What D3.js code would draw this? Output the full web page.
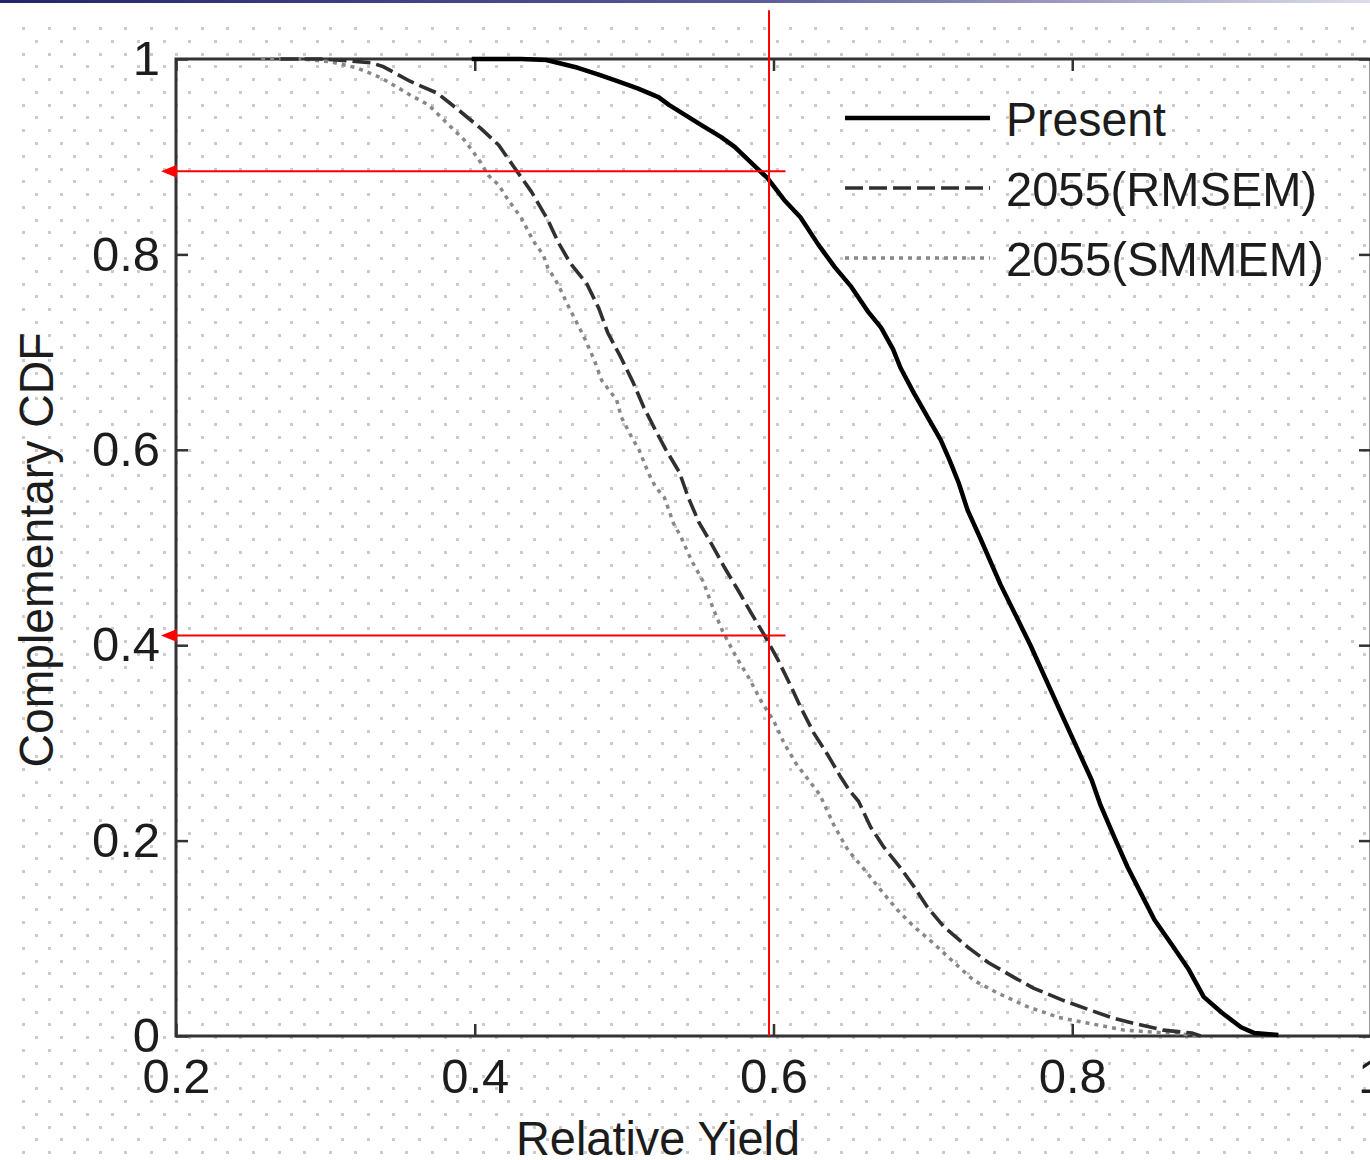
<!DOCTYPE html>
<html>
<head>
<meta charset="utf-8">
<script src="https://cdn.jsdelivr.net/npm/d3@7"></script>
<style>
  body { margin: 0; background: #fff; }
  svg { display: block; font-family: 'Liberation Sans', Arial, Helvetica, sans-serif; }
  .tick text { font-size: 49px; fill: #1c1c1c; }
  .tick line { stroke: #333; stroke-width: 2.5; }
  .label { font-size: 49px; fill: #1c1c1c; }
</style>
</head>
<body>
<div id="draw"></div>
<script>
// series: relative yield vs complementary CDF
let seriesNames = ['Present', '2055(RMSEM)', '2055(SMMEM)']

let presentYield = [0.398, 0.431, 0.448, 0.469, 0.483, 0.496, 0.509, 0.523, 0.530, 0.552, 0.565, 0.574, 0.585, 0.596, 0.607, 0.618, 0.630, 0.641, 0.652, 0.663, 0.672, 0.680, 0.685, 0.694, 0.703, 0.712, 0.718, 0.724, 0.730, 0.738, 0.752, 0.772, 0.793, 0.813, 0.819, 0.828, 0.837, 0.846, 0.855, 0.866, 0.878, 0.888, 0.900, 0.913, 0.922, 0.938]
let presentCcdf = [1.000, 1.000, 0.999, 0.991, 0.984, 0.977, 0.970, 0.961, 0.953, 0.932, 0.920, 0.910, 0.894, 0.878, 0.856, 0.838, 0.810, 0.787, 0.767, 0.742, 0.725, 0.703, 0.684, 0.658, 0.634, 0.610, 0.589, 0.566, 0.538, 0.511, 0.462, 0.400, 0.329, 0.262, 0.236, 0.204, 0.173, 0.146, 0.119, 0.095, 0.068, 0.040, 0.024, 0.009, 0.003, 0.001]

let rmsemYield = [0.270, 0.297, 0.317, 0.331, 0.339, 0.357, 0.375, 0.389, 0.404, 0.416, 0.426, 0.438, 0.449, 0.456, 0.464, 0.475, 0.483, 0.489, 0.498, 0.506, 0.513, 0.521, 0.528, 0.537, 0.543, 0.550, 0.558, 0.567, 0.576, 0.585, 0.594, 0.603, 0.612, 0.618, 0.627, 0.637, 0.645, 0.651, 0.657, 0.665, 0.674, 0.685, 0.694, 0.703, 0.714, 0.730, 0.744, 0.761, 0.774, 0.793, 0.811, 0.826, 0.841, 0.861, 0.880, 0.886]
let rmsemCcdf = [1.000, 1.000, 0.998, 0.996, 0.992, 0.977, 0.965, 0.948, 0.929, 0.912, 0.890, 0.864, 0.835, 0.812, 0.791, 0.770, 0.745, 0.720, 0.694, 0.669, 0.644, 0.620, 0.600, 0.577, 0.551, 0.526, 0.505, 0.480, 0.457, 0.433, 0.410, 0.385, 0.357, 0.337, 0.310, 0.286, 0.265, 0.251, 0.240, 0.214, 0.193, 0.172, 0.153, 0.132, 0.112, 0.091, 0.075, 0.060, 0.049, 0.037, 0.027, 0.019, 0.013, 0.006, 0.003, 0.000]

let smmemYield = [0.257, 0.284, 0.304, 0.321, 0.337, 0.357, 0.369, 0.379, 0.393, 0.399, 0.404, 0.409, 0.416, 0.421, 0.426, 0.431, 0.436, 0.440, 0.446, 0.449, 0.454, 0.458, 0.462, 0.473, 0.480, 0.485, 0.495, 0.498, 0.505, 0.510, 0.516, 0.521, 0.527, 0.533, 0.538, 0.545, 0.553, 0.560, 0.566, 0.575, 0.583, 0.592, 0.600, 0.607, 0.615, 0.622, 0.631, 0.641, 0.650, 0.661, 0.672, 0.683, 0.694, 0.707, 0.721, 0.734, 0.750, 0.770, 0.791, 0.811, 0.835, 0.873, 0.886]
let smmemCcdf = [1.000, 1.000, 0.997, 0.991, 0.981, 0.963, 0.953, 0.938, 0.917, 0.905, 0.894, 0.881, 0.871, 0.859, 0.848, 0.838, 0.823, 0.812, 0.799, 0.786, 0.774, 0.762, 0.749, 0.716, 0.692, 0.671, 0.651, 0.634, 0.613, 0.600, 0.577, 0.562, 0.551, 0.525, 0.511, 0.487, 0.465, 0.436, 0.414, 0.388, 0.368, 0.342, 0.323, 0.300, 0.279, 0.265, 0.247, 0.214, 0.190, 0.170, 0.149, 0.129, 0.112, 0.095, 0.075, 0.057, 0.044, 0.030, 0.019, 0.013, 0.006, 0.002, 0.000]

let xTicks = [0.2, 0.4, 0.6, 0.8, 1]
let yTicks = [0, 0.2, 0.4, 0.6, 0.8, 1]

// red guide lines
let refYield = 0.597
let refYieldEnd = 0.608
let refTop = 1.05
let refLevels = [0.885, 0.41]

let width = 1370
let height = 1160

let svg = d3.select('#draw')
  .append('svg')
  .attr('width', width)
  .attr('height', height)

svg.append('rect')
  .attr('width', width)
  .attr('height', height)
  .attr('fill', '#fff')

// slide header bar
let grad = svg.append('defs').append('linearGradient')
  .attr('id', 'bar')
grad.append('stop').attr('offset', '0%').attr('stop-color', '#24246a')
grad.append('stop').attr('offset', '55%').attr('stop-color', '#5a5a98')
grad.append('stop').attr('offset', '100%').attr('stop-color', '#dcdcea')
svg.append('rect')
  .attr('width', width)
  .attr('height', 3)
  .attr('fill', 'url(#bar)')

// dotted background
let step = 25.55
let dots = []
d3.range(0, 89).forEach(function (j) {
  let y = 28 + j * step / 2
  let off = j % 2 ? step / 2 : 0
  d3.range(0, 55).forEach(function (k) {
    let x = 23 + off + k * step
    if (x < width) dots.push([Math.round(x) - 1, Math.round(y) - 1])
  })
})
svg.append('g')
  .selectAll('rect')
  .data(dots)
  .enter().append('rect')
  .attr('x', function (d) { return d[0] })
  .attr('y', function (d) { return d[1] })
  .attr('width', 3)
  .attr('height', 3)
  .attr('fill', '#cbcbcb')

let xScale = d3.scaleLinear().domain([0.2, 1]).range([176, 1371])
let yScale = d3.scaleLinear().domain([0, 1]).range([1036, 59])

let fmt = function (d) { return (d === 0 || d === 1) ? String(d) : d.toFixed(1) }

// axes box
svg.append('rect')
  .attr('x', xScale(0.2))
  .attr('y', yScale(1))
  .attr('width', xScale(1) - xScale(0.2))
  .attr('height', yScale(0) - yScale(1))
  .attr('fill', 'none')
  .attr('stroke', '#333')
  .attr('stroke-width', 3)

let dropDomain = function (g) { g.select('.domain').remove() }

svg.append('g')
  .attr('transform', 'translate(0,' + yScale(0) + ')')
  .call(d3.axisBottom(xScale).tickValues(xTicks).tickSizeInner(-12).tickSizeOuter(0).tickPadding(22).tickFormat(fmt))
  .call(dropDomain)

svg.append('g')
  .attr('transform', 'translate(0,' + yScale(1) + ')')
  .call(d3.axisTop(xScale).tickValues(xTicks).tickSizeInner(-12).tickSizeOuter(0).tickFormat(''))
  .call(dropDomain)

svg.append('g')
  .attr('transform', 'translate(' + xScale(0.2) + ',0)')
  .call(d3.axisLeft(yScale).tickValues(yTicks).tickSizeInner(-12).tickSizeOuter(0).tickPadding(16).tickFormat(fmt))
  .call(dropDomain)

svg.append('g')
  .attr('transform', 'translate(' + xScale(1) + ',0)')
  .call(d3.axisRight(yScale).tickValues(yTicks).tickSizeInner(-12).tickSizeOuter(0).tickFormat(''))
  .call(dropDomain)

svg.selectAll('.tick text')
  .attr('font-family', null)
  .attr('font-size', null)
  .attr('fill', null)

// curves
let series = [
  { name: seriesNames[0], values: d3.zip(presentYield, presentCcdf), stroke: '#000', width: 4.5, dash: null },
  { name: seriesNames[1], values: d3.zip(rmsemYield, rmsemCcdf), stroke: '#303030', width: 3.6, dash: '18,6' },
  { name: seriesNames[2], values: d3.zip(smmemYield, smmemCcdf), stroke: '#888', width: 3.5, dash: '4,5' }
]

let line = d3.line()
  .x(function (d) { return xScale(d[0]) })
  .y(function (d) { return yScale(d[1]) })

svg.append('g')
  .selectAll('path')
  .data(series.slice().reverse())
  .enter().append('path')
  .attr('d', function (d) { return line(d.values) })
  .attr('fill', 'none')
  .attr('stroke', function (d) { return d.stroke })
  .attr('stroke-width', function (d) { return d.width })
  .attr('stroke-dasharray', function (d) { return d.dash })
  .attr('stroke-linejoin', 'round')

// red guides with arrows pointing at the y axis
let guides = svg.append('g')
guides.append('line')
  .attr('x1', xScale(refYield))
  .attr('x2', xScale(refYield))
  .attr('y1', yScale(refTop))
  .attr('y2', yScale(0))
  .attr('stroke', '#ff0000')
  .attr('stroke-width', 2)

guides.selectAll('.hguide')
  .data(refLevels)
  .enter().append('line')
  .attr('class', 'hguide')
  .attr('x1', xScale(0.2) - 8)
  .attr('x2', xScale(refYieldEnd))
  .attr('y1', function (d) { return yScale(d) })
  .attr('y2', function (d) { return yScale(d) })
  .attr('stroke', '#ff0000')
  .attr('stroke-width', 2)

guides.selectAll('.arrow')
  .data(refLevels)
  .enter().append('path')
  .attr('class', 'arrow')
  .attr('d', function (d) {
    let x0 = xScale(0.2)
    let y0 = yScale(d)
    return 'M' + (x0 - 15) + ',' + y0 + 'L' + (x0 + 1) + ',' + (y0 - 6.5) + 'L' + (x0 + 1) + ',' + (y0 + 6.5) + 'Z'
  })
  .attr('fill', '#ff0000')

// legend (no box)
let legendWidths = [160, 311, 318]
let legend = svg.selectAll('.legend')
  .data(series)
  .enter().append('g')
  .attr('class', 'legend')
  .attr('transform', function (d, i) { return 'translate(845,' + (118 + i * 70) + ')' })

legend.append('line')
  .attr('x1', 0)
  .attr('x2', 145)
  .attr('stroke', function (d) { return d.stroke })
  .attr('stroke-width', function (d) { return d.width })
  .attr('stroke-dasharray', function (d) { return d.dash })

legend.append('text')
  .attr('class', 'label')
  .attr('x', 161)
  .attr('dy', '0.36em')
  .attr('textLength', function (d, i) { return legendWidths[i] })
  .attr('lengthAdjust', 'spacingAndGlyphs')
  .text(function (d) { return d.name })

// axis labels
svg.append('text')
  .attr('class', 'label')
  .attr('x', 658)
  .attr('y', 1155)
  .attr('text-anchor', 'middle')
  .attr('textLength', 284)
  .attr('lengthAdjust', 'spacingAndGlyphs')
  .text('Relative Yield')

svg.append('text')
  .attr('class', 'label')
  .attr('transform', 'translate(53,550) rotate(-90)')
  .attr('text-anchor', 'middle')
  .attr('textLength', 435)
  .attr('lengthAdjust', 'spacingAndGlyphs')
  .text('Complementary CDF')
</script>
</body>
</html>
